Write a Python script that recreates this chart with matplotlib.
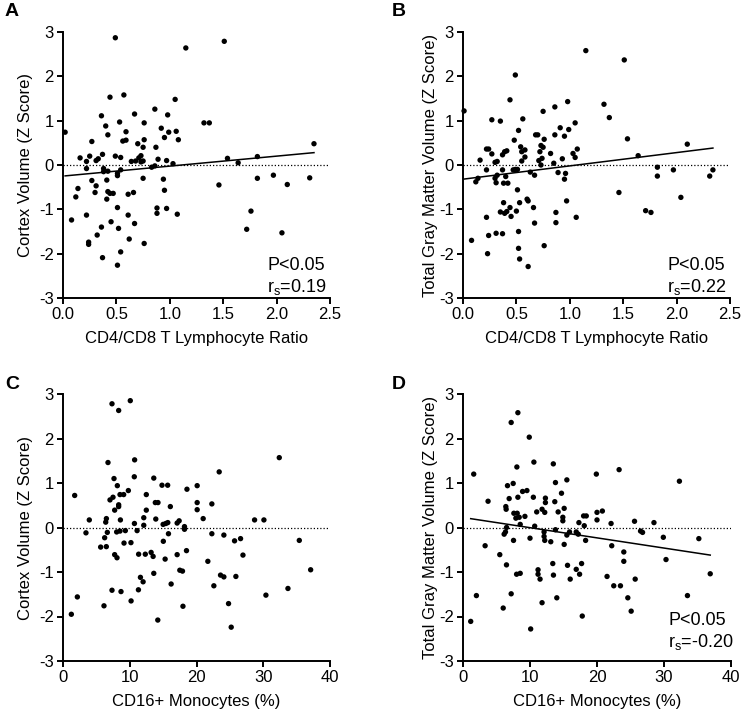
import numpy as np
import matplotlib
matplotlib.use("Agg")
import matplotlib.pyplot as plt

plt.rcParams['font.family'] = ['Liberation Sans', 'DejaVu Sans']
plt.rcParams['axes.unicode_minus'] = False
plt.rcParams['mathtext.fontset'] = 'custom'
plt.rcParams['mathtext.rm'] = 'Liberation Sans'

# ---- data ----
# A: CD4/CD8 ratio vs cortex volume
ratio_a = [0.02, 0.49, 1.15, 1.51, 0.44, 0.57, 1.05, 0.36, 0.67, 0.86, 0.98, 0.40, 0.53, 0.76,
           1.32, 1.37, 0.42, 0.59, 0.92, 0.99, 1.06, 0.27, 0.56, 0.59, 0.76, 0.95, 1.08, 0.70,
           0.75, 0.87, 2.35, 0.16, 0.25, 0.22, 0.31, 0.33, 0.37, 0.49, 0.54, 0.64, 0.68, 0.71,
           0.73, 0.73, 0.75, 0.89, 0.97, 1.03, 1.54, 1.64, 1.82,
           0.22, 0.38, 0.42, 0.38, 0.51, 0.54, 0.51, 0.83, 0.86, 0.14, 0.12, 0.27, 0.31, 0.30,
           0.41, 0.42, 0.44, 0.41, 0.47, 0.61, 0.66, 0.75, 0.94, 0.95, 1.46, 1.82, 1.97, 2.10,
           2.31, 0.08, 0.22, 0.51, 0.61, 0.88, 0.88, 0.97, 1.07, 0.45, 0.67, 0.36, 0.52, 0.32,
           0.24, 0.24, 0.62, 0.76, 0.54, 0.37, 0.51, 1.76, 1.72, 2.05]
cortex_a = [0.74, 2.87, 2.64, 2.79, 1.53, 1.58, 1.48, 1.11, 1.15, 1.26, 1.13, 0.88, 0.97, 0.95,
            0.95, 0.95, 0.68, 0.75, 0.83, 0.74, 0.76, 0.53, 0.54, 0.56, 0.57, 0.62, 0.57, 0.48,
            0.40, 0.40, 0.48, 0.16, 0.20, 0.08, 0.10, 0.14, 0.24, 0.20, 0.17, 0.08, 0.09, 0.16,
            0.21, 0.07, 0.09, 0.13, 0.10, 0.03, 0.15, 0.05, 0.19,
            -0.08, -0.08, -0.14, -0.15, -0.19, -0.11, -0.24, -0.05, -0.02, -0.53, -0.72, -0.35,
            -0.47, -0.62, -0.34, -0.60, -0.64, -0.77, -0.64, -0.66, -0.62, -0.30, -0.32, -0.57,
            -0.45, -0.30, -0.23, -0.44, -0.29, -1.24, -1.13, -0.96, -1.13, -0.97, -1.09, -0.98,
            -1.11, -1.28, -1.32, -1.40, -1.43, -1.58, -1.74, -1.79, -1.67, -1.77, -1.96, -2.09,
            -2.26, -1.04, -1.45, -1.53]

# B: CD4/CD8 ratio vs total gray matter volume
ratio_b = [0.01, 1.15, 1.51, 0.49, 0.44, 0.27, 0.35, 0.56, 0.86, 0.98, 0.75, 1.32, 1.37, 1.54,
           0.52, 0.48, 0.68, 0.70, 0.86, 0.91, 0.95, 0.99, 1.05, 0.76, 0.54, 0.58, 0.55, 0.73,
           0.75, 0.72, 0.82, 1.07, 1.03, 1.05, 0.93, 0.22, 0.24, 0.27, 0.37, 0.39, 0.41, 0.30,
           0.32, 0.16, 0.55, 0.58, 0.71, 0.74, 0.73, 0.85, 1.64, 2.10,
           0.22, 0.12, 0.14, 0.30, 0.31, 0.32, 0.37, 0.38, 0.40, 0.42, 0.47, 0.49, 0.51, 0.51,
           0.63, 0.67, 0.89, 0.95, 0.96, 0.97, 1.46, 1.82, 1.82, 1.97, 2.04, 2.31, 2.34, 1.71,
           1.76, 0.38, 0.35, 0.39, 0.41, 0.44, 0.45, 0.50, 0.53, 0.60, 0.61, 0.66, 0.67, 0.87,
           0.87, 1.06, 0.22, 0.08, 0.24, 0.31, 0.37, 0.23, 0.52, 0.52, 0.53, 0.61, 0.76]
gray_b = [1.22, 2.58, 2.37, 2.03, 1.47, 1.02, 0.99, 1.04, 1.31, 1.43, 1.21, 1.37, 1.07, 0.59,
          0.78, 0.56, 0.68, 0.68, 0.68, 0.84, 0.65, 0.80, 0.95, 0.58, 0.41, 0.34, 0.30, 0.44,
          0.40, 0.30, 0.26, 0.36, 0.26, 0.17, 0.14, 0.36, 0.36, 0.25, 0.23, 0.30, 0.32, 0.06,
          0.08, 0.11, 0.09, 0.18, 0.10, 0.15, 0.00, 0.04, 0.21, 0.47,
          -0.11, -0.38, -0.30, -0.30, -0.40, -0.23, -0.11, -0.41, -0.26, -0.41, -0.11, -0.10,
          -0.10, -0.56, -0.16, -0.23, -0.17, -0.32, -0.19, -0.81, -0.62, -0.05, -0.25, -0.11,
          -0.73, -0.25, -0.11, -1.03, -1.07, -0.85, -1.06, -1.09, -1.05, -0.96, -1.16, -1.04,
          -0.85, -0.77, -0.81, -0.96, -1.31, -1.07, -1.30, -1.18, -1.18, -1.70, -1.59, -1.54,
          -1.55, -2.00, -1.50, -1.88, -2.12, -2.29, -1.82]

# C: CD16+ monocytes vs cortex volume
mono_c = [1.75, 7.34, 8.34, 10.08, 6.74, 10.73, 32.4, 23.4, 7.64, 10.68, 13.6, 8.14, 14.83,
          15.68, 20.1, 18.57, 9.79, 8.54, 9.09, 12.48, 7.04, 7.49, 13.83, 14.23, 16.08, 20.1,
          22.3, 20.1, 8.34, 8.34, 7.74, 12.48,
          3.94, 6.5, 6.4, 8.6, 10.7, 12.1, 12.1, 13.9, 15.0, 15.4, 15.7, 17.1, 17.4, 18.2, 18.2,
          21.0, 28.7, 30.1, 3.44, 6.24, 6.64, 8.04, 8.54, 9.34, 11.1, 5.64, 6.49, 9.14, 10.18,
          7.74, 8.09, 11.33, 12.33, 13.2, 13.5, 15.03, 15.8, 15.3, 17.1, 18.5, 17.5, 17.9, 13.6,
          11.6, 12.0, 16.2, 11.3, 7.34, 8.69, 10.2, 6.14, 17.97, 14.2, 2.15, 1.25, 22.3, 24.1,
          25.7, 26.6, 26.96, 21.7, 23.6, 24.1, 25.9, 22.6, 24.8, 25.2, 30.4, 33.7, 35.4, 37.1]
cortex_c = [0.72, 2.78, 2.63, 2.85, 1.46, 1.52, 1.57, 1.25, 1.10, 1.14, 1.11, 0.94, 0.95, 0.95,
            0.94, 0.86, 0.83, 0.74, 0.74, 0.74, 0.62, 0.68, 0.56, 0.56, 0.47, 0.56, 0.53, 0.40,
            0.51, 0.47, 0.39, 0.39,
            0.17, 0.20, 0.12, 0.17, 0.09, 0.22, 0.05, 0.19, 0.07, 0.09, 0.11, 0.10, 0.15, 0.02,
            -0.04, 0.20, 0.17, 0.17, -0.12, -0.23, -0.11, -0.10, -0.08, -0.07, -0.07, -0.44,
            -0.43, -0.35, -0.34, -0.61, -0.68, -0.60, -0.60, -0.56, -0.65, -0.31, -0.14, -0.71,
            -0.61, -0.52, -0.96, -0.98, -1.03, -1.12, -1.22, -1.27, -1.40, -1.41, -1.44, -1.65,
            -1.76, -1.77, -2.08, -1.56, -1.95, -0.14, -0.17, -0.30, -0.25, -0.62, -0.76, -1.07,
            -1.11, -1.10, -1.31, -1.71, -2.24, -1.52, -1.37, -0.29, -0.95]

# D: CD16+ monocytes vs total gray matter volume
mono_d = [1.6, 3.74, 7.19, 8.19, 9.89, 10.58, 13.48, 8.04, 19.9, 23.3, 32.3, 13.8, 15.5, 6.64,
          7.49, 8.89, 9.54, 14.7, 6.89, 8.19, 10.5, 12.3, 12.3, 13.7, 6.39, 6.44, 11.0, 11.8,
          12.2, 14.2, 15.1, 20.0, 20.8, 7.59, 8.09, 7.89, 8.39, 9.24, 14.9, 14.9, 18.0, 18.4,
          8.54, 10.7, 6.5, 17.3, 18.1, 20.0, 22.1, 25.6, 28.5, 6.34, 6.14, 12.1, 12.1, 12.2,
          10.0, 13.1, 13.8, 15.5, 15.9, 16.9, 17.2, 15.1, 18.3, 22.2, 26.5, 26.8, 29.9, 30.3,
          35.2, 36.9, 24.0, 24.0, 3.3, 5.49, 7.54, 6.49, 8.0, 8.54, 11.2, 11.2, 11.5, 13.4, 13.5,
          15.6, 16.0, 16.9, 17.4, 17.7, 21.5, 22.5, 23.5, 25.7, 24.6, 25.1, 33.5, 2.0, 1.15,
          6.0, 7.19, 11.8, 14.0, 17.8, 10.1]
gray_d = [1.20, 0.59, 2.36, 2.58, 2.03, 1.47, 1.43, 1.36, 1.20, 1.30, 1.04, 1.01, 1.07, 0.94,
          0.99, 0.81, 0.83, 0.77, 0.65, 0.68, 0.68, 0.66, 0.56, 0.58, 0.47, 0.41, 0.35, 0.41,
          0.34, 0.35, 0.43, 0.34, 0.37, 0.32, 0.32, 0.21, 0.23, 0.25, 0.23, 0.15, 0.26, 0.26,
          0.07, 0.03, 0.00, 0.11, 0.04, 0.17, 0.09, 0.14, 0.11, -0.10, -0.15, -0.10, -0.20,
          -0.29, -0.24, -0.32, -0.05, -0.17, -0.10, -0.10, -0.15, -0.38, -0.29, -0.41, -0.08,
          -0.11, -0.22, -0.72, -0.25, -1.04, -0.55, -0.76, -0.41, -0.61, -0.29, -0.84, -1.05,
          -1.03, -0.95, -1.05, -1.16, -0.81, -1.07, -0.85, -1.16, -0.94, -1.05, -0.81, -1.10,
          -1.31, -1.31, -1.16, -1.58, -1.88, -1.53, -1.53, -2.11, -1.81, -1.49, -1.69, -1.58,
          -1.99, -2.28]

# fitted lines (intercept, slope) and stats as printed
fit_a = (-0.25, 0.225)
fit_b = (-0.32, 0.30)
fit_d = (0.225, -0.0229)
stats_a = ('P<0.05', '0.19')
stats_b = ('P<0.05', '0.22')
stats_d = ('P<0.05', '-0.20')

ratio_ticks = [0.0, 0.5, 1.0, 1.5, 2.0, 2.5]
mono_ticks = [0, 10, 20, 30, 40]
z_ticks = [-3, -2, -1, 0, 1, 2, 3]

fig = plt.figure(figsize=(7.44, 7.17), dpi=100)

W = 744.0
H = 717.0
axA = fig.add_axes([63 / W, (H - 298) / H, 267 / W, 266 / H])
axB = fig.add_axes([463 / W, (H - 298) / H, 267 / W, 266 / H])
axC = fig.add_axes([63 / W, (H - 661) / H, 267 / W, 267 / H])
axD = fig.add_axes([463 / W, (H - 661) / H, 268 / W, 267 / H])


def panel(ax, x, y, xticks, xlabel, ylabel, fit=None, stats=None, stat_y=0.105,
          ylab_x=-0.112, xfmt='%.1f'):
    ax.axhline(0, color='black', lw=0.9, ls=(0, (1, 1.6)), zorder=1)
    ax.scatter(x, y, s=15, color='black', edgecolors='none', zorder=3, clip_on=False)
    if fit is not None:
        xx = np.array([min(x), max(x)])
        ax.plot(xx, fit[0] + fit[1] * xx, color='black', lw=1.1, zorder=2)
    ax.set_xlim(xticks[0], xticks[-1])
    ax.set_ylim(-3, 3)
    ax.set_xticks(xticks)
    ax.set_xticklabels([xfmt % t for t in xticks])
    ax.set_yticks(z_ticks)
    ax.set_yticklabels([str(t) for t in z_ticks])
    for s in ['top', 'right']:
        ax.spines[s].set_visible(False)
    for s in ['left', 'bottom']:
        ax.spines[s].set_linewidth(1.4)
    ax.tick_params(direction='out', length=4.5, width=1.4, labelsize=12, pad=2)
    ax.set_xlabel(xlabel, fontsize=12)
    ax.set_ylabel(ylabel, fontsize=12)
    ax.xaxis.set_label_coords(0.5, -0.125)
    ax.xaxis.label.set_va('top')
    ax.yaxis.set_label_coords(ylab_x, 0.5)
    if stats is not None:
        ax.text(0.765, stat_y, stats[0], transform=ax.transAxes, fontsize=13,
                ha='left', va='baseline')
        ax.text(0.765, stat_y - 0.082, r'r$_\mathregular{s}$=' + stats[1],
                transform=ax.transAxes, fontsize=13, ha='left', va='baseline')


panel(axA, ratio_a, cortex_a, ratio_ticks, 'CD4/CD8 T Lymphocyte Ratio',
      'Cortex Volume (Z Score)', fit_a, stats_a)
panel(axB, ratio_b, gray_b, ratio_ticks, 'CD4/CD8 T Lymphocyte Ratio',
      'Total Gray Matter Volume (Z Score)', fit_b, stats_b, ylab_x=-0.094)
panel(axC, mono_c, cortex_c, mono_ticks, 'CD16+ Monocytes (%)',
      'Cortex Volume (Z Score)', xfmt='%d')
panel(axD, mono_d, gray_d, mono_ticks, 'CD16+ Monocytes (%)',
      'Total Gray Matter Volume (Z Score)', fit_d, stats_d, stat_y=0.134,
      ylab_x=-0.094, xfmt='%d')

fig.text(5 / W, 1 - 3 / H, 'A', fontsize=14, fontweight='bold', ha='left', va='top')
fig.text(392 / W, 1 - 3 / H, 'B', fontsize=14, fontweight='bold', ha='left', va='top')
fig.text(5 / W, 1 - 376 / H, 'C', fontsize=14, fontweight='bold', ha='left', va='top')
fig.text(392 / W, 1 - 376 / H, 'D', fontsize=14, fontweight='bold', ha='left', va='top')

fig.savefig('out.png', dpi=100)
